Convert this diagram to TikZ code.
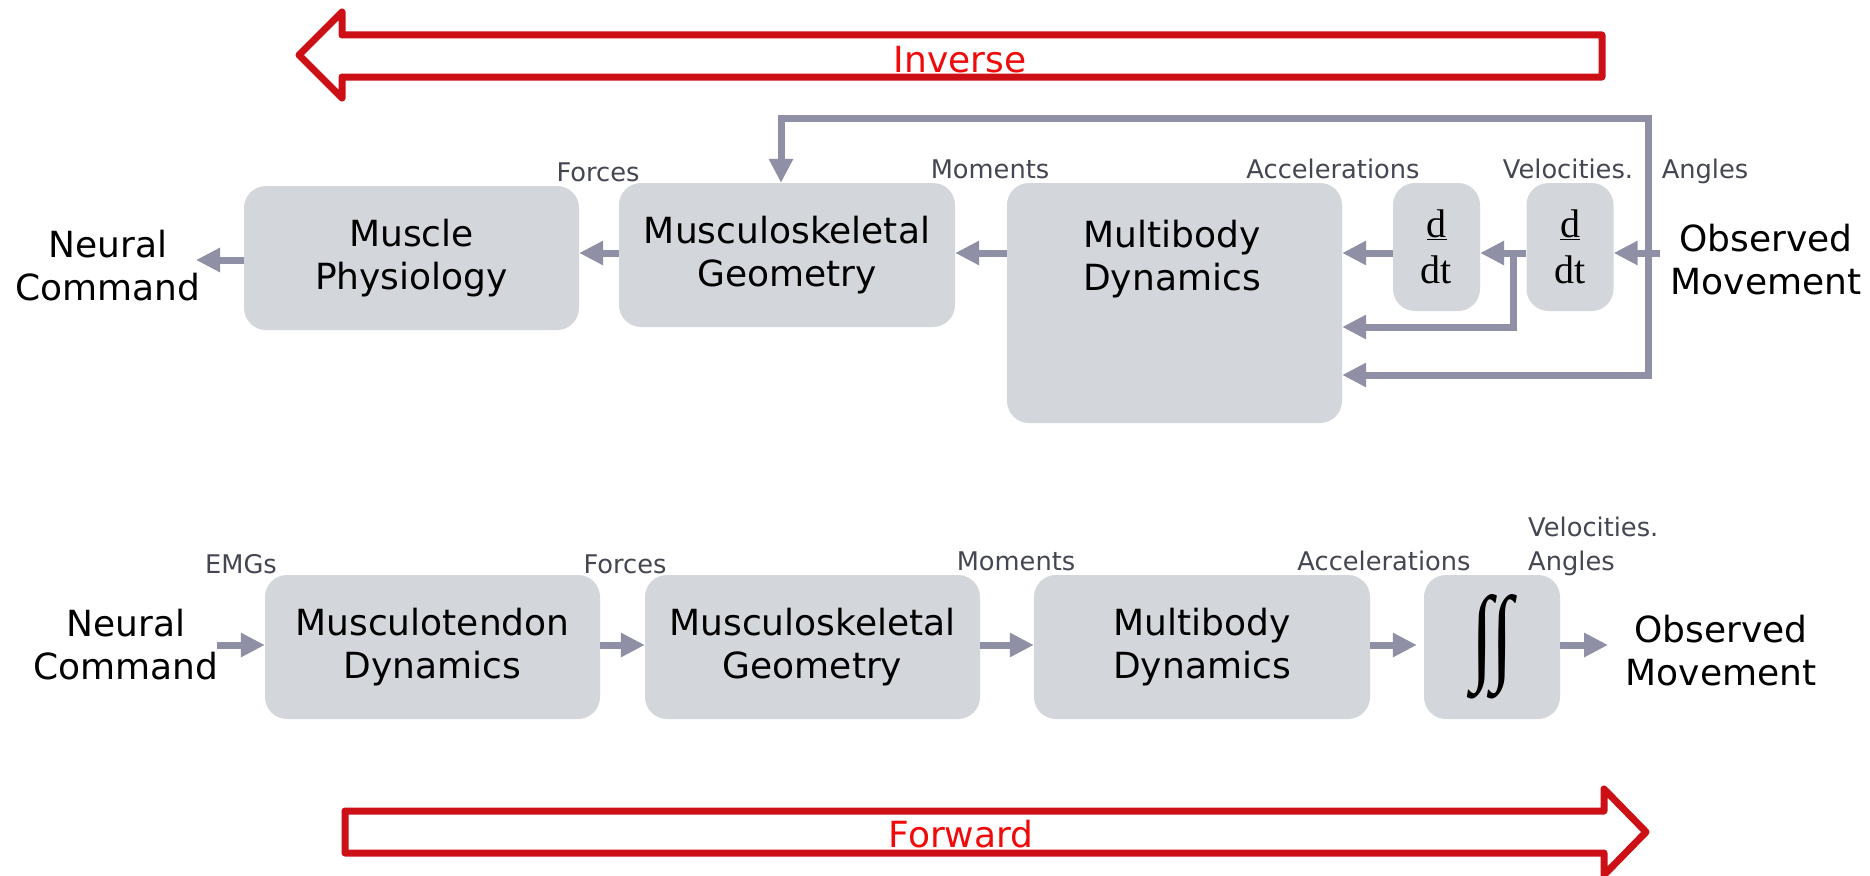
\documentclass[tikz,border=0pt]{standalone}
\usepackage{fontspec}
\usepackage{graphicx}
\setmainfont{DejaVu Sans}
\newfontfamily\serifdd{Liberation Serif}
\usetikzlibrary{arrows.meta}
\definecolor{boxgray}{RGB}{211,214,218}
\definecolor{arrgray}{RGB}{143,143,165}
\definecolor{lblgray}{RGB}{68,70,82}
\definecolor{outred}{RGB}{204,16,22}
\definecolor{txtred}{RGB}{240,10,10}
\begin{document}
\begin{tikzpicture}[x=1pt,y=-1pt,
  box/.style={draw=none, fill=boxgray, rounded corners=22pt, inner sep=0pt, align=center, font=\fontsize{36}{43}\selectfont},
  plain/.style={inner sep=0pt, align=center, font=\fontsize{36}{43}\selectfont},
  lbl/.style={inner sep=0pt, anchor=base, text=lblgray, font=\fontsize{25.7}{34}\selectfont},
  ddbox/.style={box, minimum width=87pt, minimum height=128pt, font=\serifdd\fontsize{40}{46}\selectfont},
  arr/.style={draw=arrgray, line width=7pt, -{Triangle[length=24pt,width=23pt]}},
  arrboth/.style={draw=arrgray, line width=7pt, {Triangle[length=24pt,width=23pt]}-{Triangle[length=24pt,width=23pt]}},
  bigarrow/.style={draw=outred, line width=7pt, line join=round},
  bigtext/.style={inner sep=0pt, anchor=base, text=txtred, font=\fontsize{36}{43}\selectfont}
]
\fill[white] (0,0) rectangle (1870,875);
\useasboundingbox (0,0) rectangle (1870,875);

% ---------- Inverse arrow ----------
\draw[bigarrow] (299,55) -- (342,12) -- (342,35) -- (1602,35) -- (1602,77) -- (342,77) -- (342,98) -- cycle;
\node[bigtext] (inv) at (960,72) {Inverse};

% ---------- top row ----------
\node[box, minimum width=335pt, minimum height=144pt] (mpT) at (411.5,258) {Muscle\\Physiology};
\node[box, minimum width=336pt, minimum height=144pt] (msgT) at (787,255) {Musculoskeletal\\Geometry};
\node[box, minimum width=335pt, minimum height=240pt] (mbdT) at (1174.5,303) {};
\node[plain] (mbdTtxt) at (1172,259) {Multibody\\Dynamics};
\node[ddbox] (dd1) at (1436.5,247) {\underline{d}\\dt};
\node[ddbox] (dd2) at (1570,247) {\underline{d}\\dt};
\node[plain] (neuT) at (108,266) {Neural\\Command};
\node[plain] (obsT) at (1766,260) {Observed\\Movement};

\node[lbl] (lForT) at (598,181) {Forces};
\node[lbl] (lMomT) at (990,178) {Moments};
\node[lbl] (lAccT) at (1333,178) {Accelerations};
\node[lbl] (lVelT) at (1568,178) {Velocities.};
\node[lbl] (lAngT) at (1705,178) {Angles};

\coordinate (yA) at (0,253);
\coordinate (nTtip) at (196,260);
\coordinate (jn) at (1513,253);
\coordinate (y327) at (0,327);
\coordinate (oStart) at (1660,253);
\coordinate (lp) at (1648,118);
\coordinate (y375) at (0,375);
\coordinate (xdn) at (781,0);

\draw[arr] (mpT.west |- nTtip) -- (nTtip);
\draw[arr] (msgT.west |- yA) -- (mpT.east |- yA);
\draw[arr] (mbdT.west |- yA) -- (msgT.east |- yA);
\draw[arr] (dd1.west |- yA) -- (mbdT.east |- yA);
\draw[arr] (dd2.west |- yA) -- (dd1.east |- yA);
\draw[arr] (jn) |- (mbdT.east |- y327);
\draw[arr] (oStart) -- (dd2.east |- yA);
\draw[arrboth] (msgT.north -| xdn) |- (lp) |- (mbdT.east |- y375);

% ---------- bottom row ----------
\node[plain] (neuB) at (126,645) {Neural\\Command};
\node[box, minimum width=335pt, minimum height=144pt] (mtd) at (432.5,647) {Musculotendon\\Dynamics};
\node[box, minimum width=335pt, minimum height=144pt] (msgB) at (812.5,647) {Musculoskeletal\\Geometry};
\node[box, minimum width=336pt, minimum height=144pt] (mbdB) at (1202,647) {Multibody\\Dynamics};
\node[box, minimum width=136pt, minimum height=144pt] (intB) at (1492,647) {\resizebox{42pt}{76pt}{\serifdd ∫\kern-0.02em∫}};
\node[plain] (obsB) at (1721,651) {Observed\\Movement};

\node[lbl] (lEmg) at (241,573) {EMGs};
\node[lbl] (lForB) at (625,573) {Forces};
\node[lbl] (lMomB) at (1016,570) {Moments};
\node[lbl] (lAccB) at (1384,570) {Accelerations};
\node[lbl, anchor=base west] (lVelB) at (1528,536) {Velocities.};
\node[lbl, anchor=base west] (lAngB) at (1528,570) {Angles};

\coordinate (yB) at (0,645);
\coordinate (nBst) at (217,645);
\coordinate (oBtip) at (1608,645);
\draw[arr] (nBst) -- (mtd.west |- yB);
\draw[arr] (mtd.east |- yB) -- (msgB.west |- yB);
\draw[arr] (msgB.east |- yB) -- (mbdB.west |- yB);
\draw[arr, shorten >=7pt] (mbdB.east |- yB) -- (intB.west |- yB);
\draw[arr] (intB.east |- yB) -- (oBtip);

% ---------- Forward arrow ----------
\draw[bigarrow] (345,811) -- (1604,811) -- (1604,789) -- (1646,832) -- (1604,875) -- (1604,853) -- (345,853) -- cycle;
\node[bigtext] (fwd) at (961,847) {Forward};
\end{tikzpicture}
\end{document}
